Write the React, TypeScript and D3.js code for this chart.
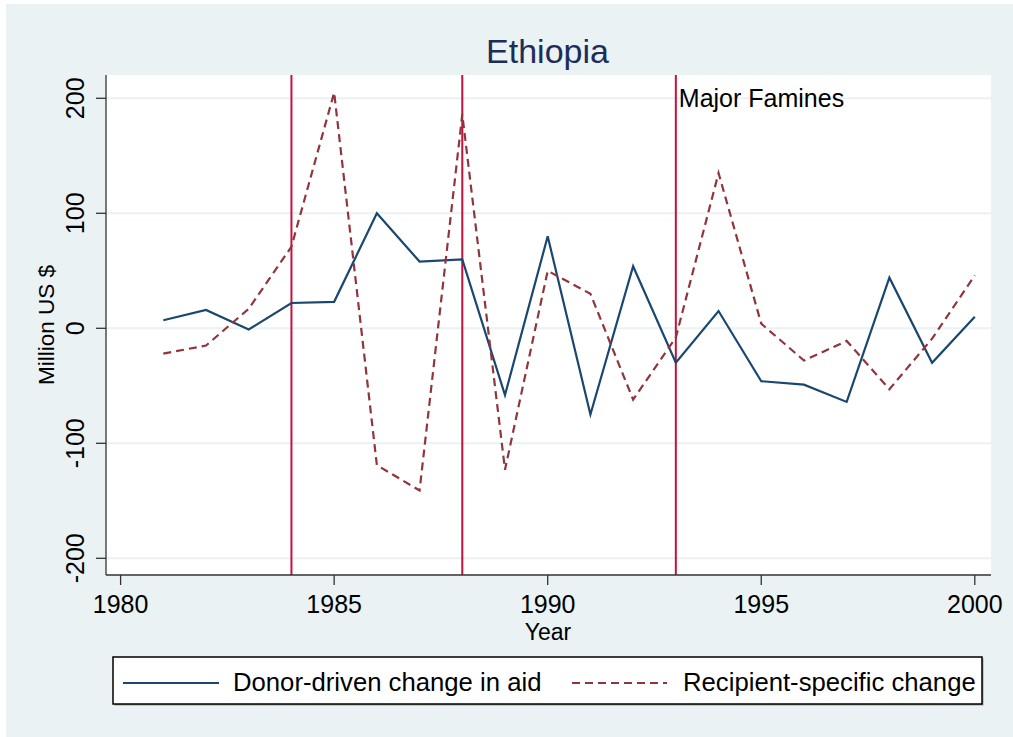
import * as d3 from "d3";

const years = [1981, 1982, 1983, 1984, 1985, 1986, 1987, 1988, 1989, 1990,
  1991, 1992, 1993, 1994, 1995, 1996, 1997, 1998, 1999, 2000];
const donorChange = [7, 16, -1, 22, 23, 100, 58, 60, -58, 80,
  -75, 54, -30, 15, -46, -49, -64, 44, -30, 10];
const recipientChange = [-22, -15, 17, 71, 205, -119, -141, 186, -123, 50,
  30, -62, -8, 135, 4, -28, -11, -53, -9, 46];
const famineYears = [1984, 1988, 1993];
const xTicks = [1980, 1985, 1990, 1995, 2000];
const yTicks = [-200, -100, 0, 100, 200];

const W = 1013;
const H = 737;
const font = "'Liberation Sans', Arial, Helvetica, sans-serif";
const bg = "#eaf2f3";
const navy = "#1a476f";
const maroon = "#90353b";
const famineRed = "#c8103c";

// plot region
const left = 106, right = 991, top = 75, bottom = 575;

const App = () => {
  const x = d3.scaleLinear().domain([1980, 2000]).range([120.6, 974.8]);
  const y = d3.scaleLinear().domain([-200, 200]).range([558.3, 98.3]);

  const line = d3.line<number>()
    .x((_, i) => x(years[i]))
    .y((d) => y(d));

  return (
    <svg width={W} height={H}
      style={{ position: "absolute", left: 0, top: 0, display: "block" }}
      fontFamily={font}>
      <rect x={0} y={0} width={W} height={H} fill="#fff" />
      <rect x={6} y={4} width={W - 6} height={H - 4} fill={bg} />

      {/* title */}
      <text x={547.5} y={63} textAnchor="middle" fontSize={34} fill="#1c2d5a">Ethiopia</text>

      {/* plot area */}
      <rect x={left} y={top} width={right - left} height={bottom - top} fill="#fff" />
      <g stroke={bg} strokeWidth={2}>
        {yTicks.map((t) => (
          <line key={t} x1={left} x2={right} y1={y(t)} y2={y(t)} />
        ))}
      </g>

      {/* famine markers */}
      <g stroke={famineRed} strokeWidth={2}>
        {famineYears.map((yr) => (
          <line key={yr} x1={x(yr)} x2={x(yr)} y1={top} y2={bottom} />
        ))}
      </g>
      <text x={x(1993) + 3} y={107} fontSize={25} fill="#000">Major Famines</text>

      {/* series */}
      <path d={line(donorChange) ?? ""} fill="none" stroke={navy} strokeWidth={2.2}
        strokeLinejoin="miter" />
      <path d={line(recipientChange) ?? ""} fill="none" stroke={maroon} strokeWidth={2.2}
        strokeDasharray="8,5" />

      {/* axes */}
      <g stroke="#333" strokeWidth={1.3}>
        <line x1={left} x2={left} y1={top} y2={bottom} />
        <line x1={left} x2={right} y1={bottom} y2={bottom} />
        {yTicks.map((t) => (
          <line key={t} x1={left - 10} x2={left} y1={y(t)} y2={y(t)} />
        ))}
        {xTicks.map((t) => (
          <line key={t} x1={x(t)} x2={x(t)} y1={bottom} y2={bottom + 10} />
        ))}
      </g>
      {yTicks.map((t) => (
        <text key={t} transform={`translate(84,${y(t)}) rotate(-90)`}
          textAnchor="middle" fontSize={25} fill="#000">{t}</text>
      ))}
      {xTicks.map((t) => (
        <text key={t} x={x(t)} y={613} textAnchor="middle" fontSize={25} fill="#000">{t}</text>
      ))}
      <text x={548} y={640} textAnchor="middle" fontSize={23} fill="#000">Year</text>
      <text transform={`translate(54,${(top + bottom) / 2}) rotate(-90)`}
        textAnchor="middle" fontSize={22.5} fill="#000">Million US $</text>

      {/* legend */}
      <rect x={114.5} y={658.5} width={869} height={47} fill="#999" />
      <rect x={113} y={657} width={869} height={47} fill="#fff" stroke="#000" strokeWidth={1.5} />
      <line x1={123} x2={219} y1={683} y2={683} stroke={navy} strokeWidth={2.2} />
      <text x={233} y={691} fontSize={25.7} fill="#000">Donor-driven change in aid</text>
      <line x1={572} x2={667} y1={683} y2={683} stroke={maroon} strokeWidth={2.2}
        strokeDasharray="8,5" />
      <text x={683} y={691} fontSize={25.7} fill="#000">Recipient-specific change</text>
    </svg>
  );
};

export default App;
